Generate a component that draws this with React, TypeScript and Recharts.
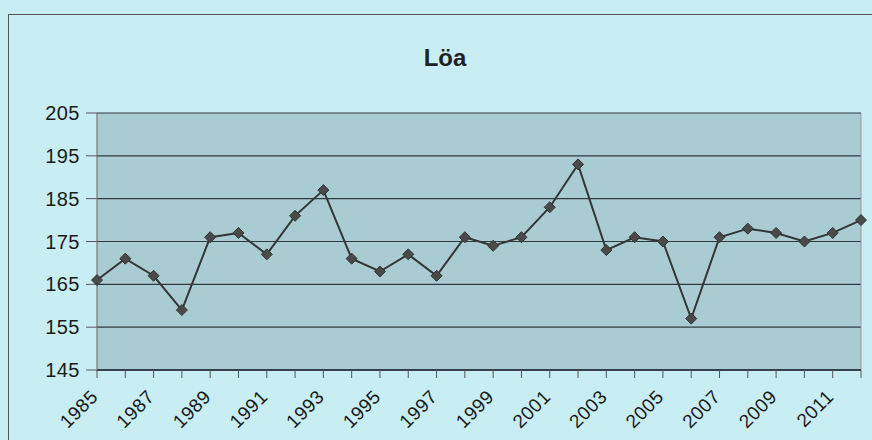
import React from "react";
import {
  LineChart,
  Line,
  XAxis,
  YAxis,
  CartesianGrid,
  ReferenceLine,
} from "recharts";

const years = [
  1985, 1986, 1987, 1988, 1989, 1990, 1991, 1992, 1993, 1994, 1995, 1996, 1997,
  1998, 1999, 2000, 2001, 2002, 2003, 2004, 2005, 2006, 2007, 2008, 2009, 2010,
  2011, 2012,
];
const values = [
  166, 171, 167, 159, 176, 177, 172, 181, 187, 171, 168, 172, 167, 176, 174,
  176, 183, 193, 173, 176, 175, 157, 176, 178, 177, 175, 177, 180,
];
const yTicks = [145, 155, 165, 175, 185, 195, 205];

const data = years.map((year, i) => ({ year, value: values[i] }));

const FONT = '"Liberation Sans", Arial, sans-serif';

function YearTick(props: any) {
  const { x, y, payload } = props;
  if (payload.value % 2 === 0) return null;
  const px = x + 2;
  const py = y + 18;
  return (
    <text
      x={px}
      y={py}
      transform={`rotate(-45, ${px}, ${py})`}
      textAnchor="end"
      fontFamily={FONT}
      fontSize={19}
      letterSpacing={0.5}
      fill="#1a1a1a"
    >
      {payload.value}
    </text>
  );
}

function Diamond(props: any) {
  const { cx, cy } = props;
  if (cx == null || cy == null) return null;
  const r = 5.5;
  return (
    <polygon
      points={`${cx},${cy - r} ${cx + r},${cy} ${cx},${cy + r} ${cx - r},${cy}`}
      fill="#4a4a4a"
      stroke="#333"
      strokeWidth={1}
    />
  );
}

export default function App() {
  return (
    <div
      style={{
        position: "absolute",
        left: 0,
        top: 0,
        width: 872,
        height: 440,
        background: "#c8eef3",
        overflow: "hidden",
      }}
    >
      <div
        style={{
          position: "absolute",
          left: 8,
          top: 14,
          width: 864,
          height: 430,
          borderLeft: "1.5px solid #555",
          borderTop: "1.5px solid #555",
        }}
      />
      <div
        style={{
          position: "absolute",
          left: 0,
          width: 890,
          top: 44,
          textAlign: "center",
          fontFamily: FONT,
          fontWeight: "bold",
          fontSize: 24,
          color: "#222",
        }}
      >
        Löa
      </div>
      <div style={{ position: "absolute", left: 0, top: 0 }}>
        <LineChart
          width={872}
          height={440}
          data={data}
          margin={{ top: 113, right: 11, bottom: 0, left: 0 }}
        >
          <CartesianGrid
            vertical={false}
            fill="#a8ccd2"
            stroke="#2f3a40"
            strokeWidth={1.2}
            horizontalValues={yTicks}
          />
          <XAxis
            dataKey="year"
            type="number"
            domain={[1985, 2012]}
            ticks={years}
            interval={0}
            height={70}
            tickSize={8}
            tickMargin={2}
            axisLine={{ stroke: "#1f2a35", strokeWidth: 1.5 }}
            tickLine={{ stroke: "#555" }}
            tick={<YearTick />}
          />
          <YAxis
            type="number"
            domain={[145, 205]}
            ticks={yTicks}
            interval={0}
            width={97}
            tickSize={11}
            tickMargin={6}
            axisLine={{ stroke: "#777", strokeWidth: 1.2 }}
            tickLine={{ stroke: "#555" }}
            tick={{
              fontFamily: FONT,
              fontSize: 20,
              fill: "#1a1a1a",
              letterSpacing: 0.5,
            }}
          />
          <ReferenceLine x={2012} stroke="#999" strokeWidth={1} />
          <Line
            dataKey="value"
            stroke="#353535"
            strokeWidth={2}
            dot={<Diamond />}
            activeDot={false}
            isAnimationActive={false}
          />
        </LineChart>
      </div>
    </div>
  );
}
